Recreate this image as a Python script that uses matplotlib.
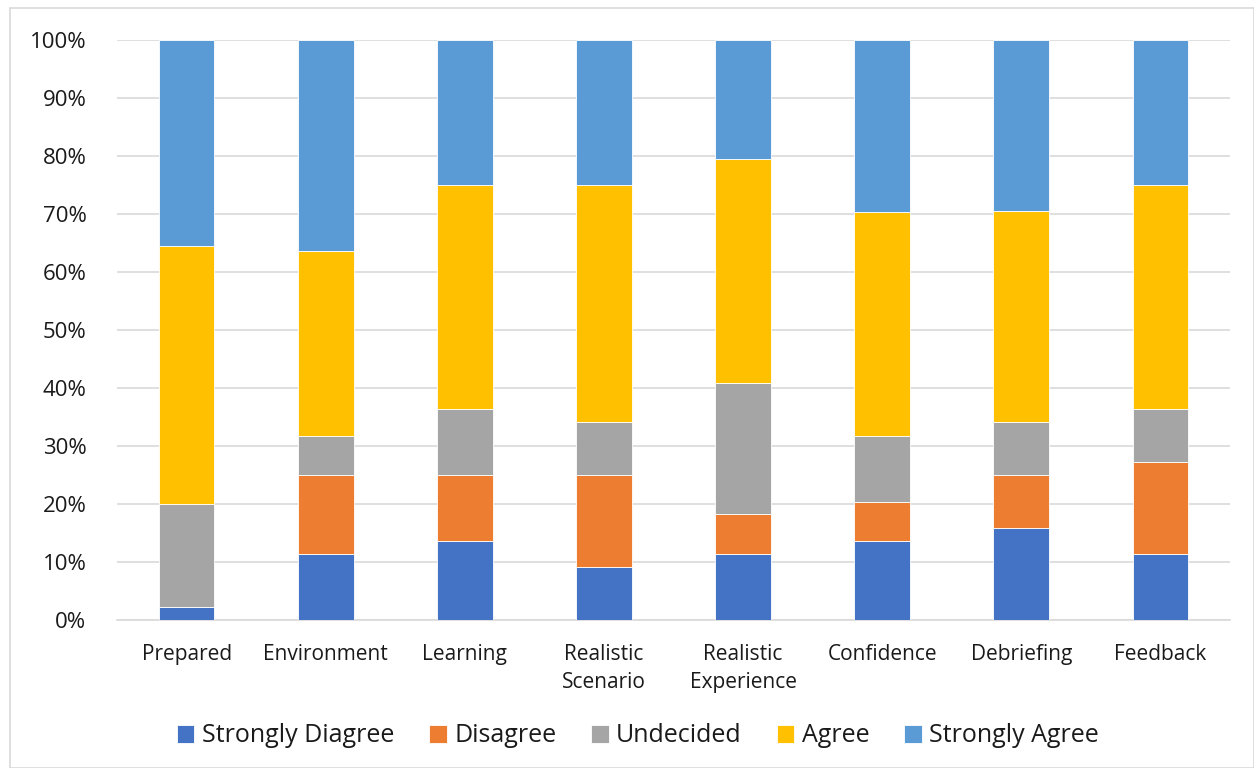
import numpy as np
import matplotlib.pyplot as plt
from matplotlib.patches import Rectangle
from matplotlib.ticker import PercentFormatter

# данные (доли в %)
categories = ["Prepared", "Environment", "Learning", "Realistic\nScenario",
              "Realistic\nExperience", "Confidence", "Debriefing", "Feedback"]
strongly_disagree = [2.2, 11.4, 13.6, 9.1, 11.4, 13.6, 15.9, 11.4]
disagree = [0.0, 13.6, 11.4, 15.9, 6.8, 6.8, 9.1, 15.9]
undecided = [17.8, 6.8, 11.4, 9.1, 22.7, 11.4, 9.1, 9.1]
agree = [44.4, 31.8, 38.6, 40.9, 38.6, 38.6, 36.4, 38.6]
strongly_agree = [35.6, 36.4, 25.0, 25.0, 20.5, 29.6, 29.5, 25.0]

series = [("Strongly Diagree", strongly_disagree, "#4472C4"),
          ("Disagree", disagree, "#ED7D31"),
          ("Undecided", undecided, "#A5A5A5"),
          ("Agree", agree, "#FFC000"),
          ("Strongly Agree", strongly_agree, "#5B9BD5")]

plt.rcParams['font.family'] = ['Open Sans', 'DejaVu Sans']

fig = plt.figure(figsize=(12.54, 7.68), dpi=100)
fig.patches.append(Rectangle((10 / 1254, 0), 1 - 10 / 1254, 1 - 8 / 768,
                             transform=fig.transFigure, fill=False,
                             edgecolor="#D9D9D9", linewidth=1.2))
ax = fig.add_axes([117 / 1254, 1 - 620 / 768, (1230 - 117) / 1254, 580 / 768])

x = np.arange(len(categories))
bottom = np.zeros(len(categories))
for name, vals, color in series:
    vals = np.array(vals)
    ax.bar(x, vals, width=0.4, bottom=bottom, color=color, label=name,
           edgecolor="white", linewidth=0.6, zorder=3)
    bottom += vals

ax.set_ylim(0, 100)
ax.set_xlim(-0.5, len(categories) - 0.5)
ax.set_yticks(np.arange(0, 101, 10))
ax.yaxis.set_major_formatter(PercentFormatter(decimals=0))
ax.set_xticks(x)
ax.set_xticklabels(categories, fontsize=15, color="#1a1a1a", linespacing=1.45)
ax.tick_params(axis="y", labelsize=16, colors="#1a1a1a", length=0, pad=22)
ax.tick_params(axis="x", length=0, pad=17)
ax.grid(axis="y", color="#D9D9D9", linewidth=1.2, zorder=0)
for s in ["top", "right", "left"]:
    ax.spines[s].set_visible(False)
ax.spines["bottom"].set_color("#D9D9D9")
ax.spines["bottom"].set_linewidth(1.2)

ax.legend(loc="center", bbox_to_anchor=(0.468, -0.2), ncol=5, frameon=False,
          fontsize=18, handlelength=0.7, handleheight=0.7, handletextpad=0.3,
          columnspacing=1.4, labelcolor="#1a1a1a")

plt.savefig("out.png", dpi=100)
